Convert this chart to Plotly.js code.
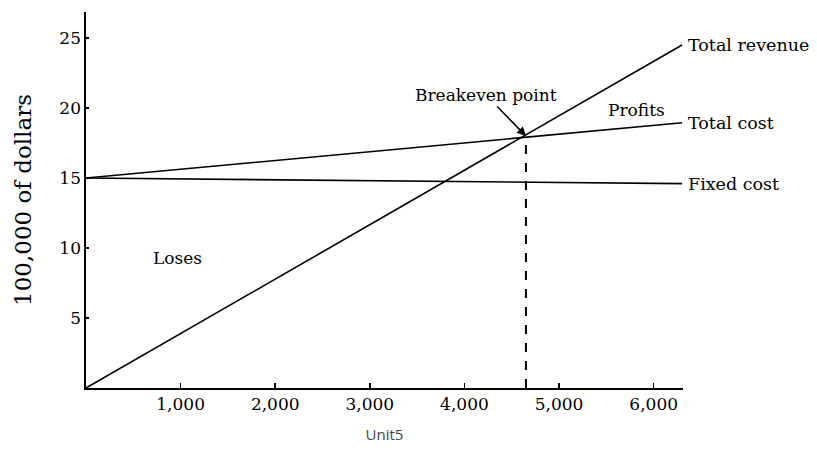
<!DOCTYPE html>
<html>
<head>
<meta charset="utf-8">
<script src="https://cdn.plot.ly/plotly-3.0.1.min.js"></script>
<style>html,body{margin:0;padding:0;background:#fff;}#chart{width:817px;height:450px;}</style>
</head>
<body>
<div id="chart"></div>
<script>
// Data (units on x, 100,000 of dollars on y)
const units = [0, 6300];
const totalRevenue = [0, 24.5];
const totalCost = [15, 18.95];
const fixedCost = [15, 14.6];
const breakevenUnits = 4650;
const breakevenValue = 18.0;

const xTickVals = [1000, 2000, 3000, 4000, 5000, 6000];
const xTickText = ['1,000', '2,000', '3,000', '4,000', '5,000', '6,000'];
const yTickVals = [5, 10, 15, 20, 25];
const yTickText = ['5', '10', '15', '20', '25'];

const lineLabels = ['Total revenue', 'Total cost', 'Fixed cost'];
const lineSeries = [totalRevenue, totalCost, fixedCost];

const serif = 'DejaVu Serif, serif';
const black = '#000';

const traces = lineSeries.map((ys, i) => ({
  x: units, y: ys, type: 'scatter', mode: 'lines', name: lineLabels[i],
  line: {color: black, width: 1.6}, hoverinfo: 'skip'
}));
traces.push({
  x: [breakevenUnits, breakevenUnits], y: [0, breakevenValue],
  type: 'scatter', mode: 'lines', name: 'Breakeven',
  line: {color: black, width: 2, dash: 'dash'}, hoverinfo: 'skip'
});

const annotations = lineLabels.map((t, i) => ({
  x: units[units.length - 1], y: lineSeries[i][lineSeries[i].length - 1],
  xref: 'x', yref: 'y', text: t, showarrow: false,
  xanchor: 'left', yanchor: 'middle', xshift: 4,
  font: {family: serif, size: 17.5, color: black}
}));
annotations.push({
  x: breakevenUnits, y: breakevenValue, xref: 'x', yref: 'y',
  text: 'Breakeven point', showarrow: true, ax: -40, ay: -41,
  arrowhead: 2, arrowsize: 1.2, arrowwidth: 1.5, arrowcolor: black,
  font: {family: serif, size: 17, color: black}
});
annotations.push({
  x: 5814, y: 19.85, xref: 'x', yref: 'y', text: 'Profits', showarrow: false,
  font: {family: serif, size: 17, color: black}
});
annotations.push({
  x: 962, y: 9.3, xref: 'x', yref: 'y', text: 'Loses', showarrow: false,
  font: {family: serif, size: 17, color: black}
});

const layout = {
  width: 817, height: 450,
  margin: {l: 86, r: 134, t: 12, b: 62, pad: 0},
  paper_bgcolor: '#fff', plot_bgcolor: '#fff',
  showlegend: false,
  xaxis: {
    range: [0, 6310], showgrid: false, zeroline: false,
    showline: true, linecolor: black, linewidth: 1.6,
    tickmode: 'array', tickvals: xTickVals, ticktext: xTickText,
    ticks: 'inside', ticklen: 5, tickwidth: 1.5, tickcolor: black,
    tickfont: {family: serif, size: 17, color: black},
    title: {text: 'Unit5', font: {size: 15, color: '#444'}, standoff: 16}
  },
  yaxis: {
    range: [0, 26.86], showgrid: false, zeroline: false,
    showline: true, linecolor: black, linewidth: 1.6,
    tickmode: 'array', tickvals: yTickVals, ticktext: yTickText,
    ticks: 'inside', ticklen: 3, tickwidth: 1.5, tickcolor: black,
    tickfont: {family: serif, size: 17, color: black},
    title: {text: '100,000 of dollars', font: {family: serif, size: 23, color: black}, standoff: 21}
  },
  annotations: annotations
};

Plotly.newPlot('chart', traces, layout, {displayModeBar: false, staticPlot: true});
</script>
</body>
</html>
